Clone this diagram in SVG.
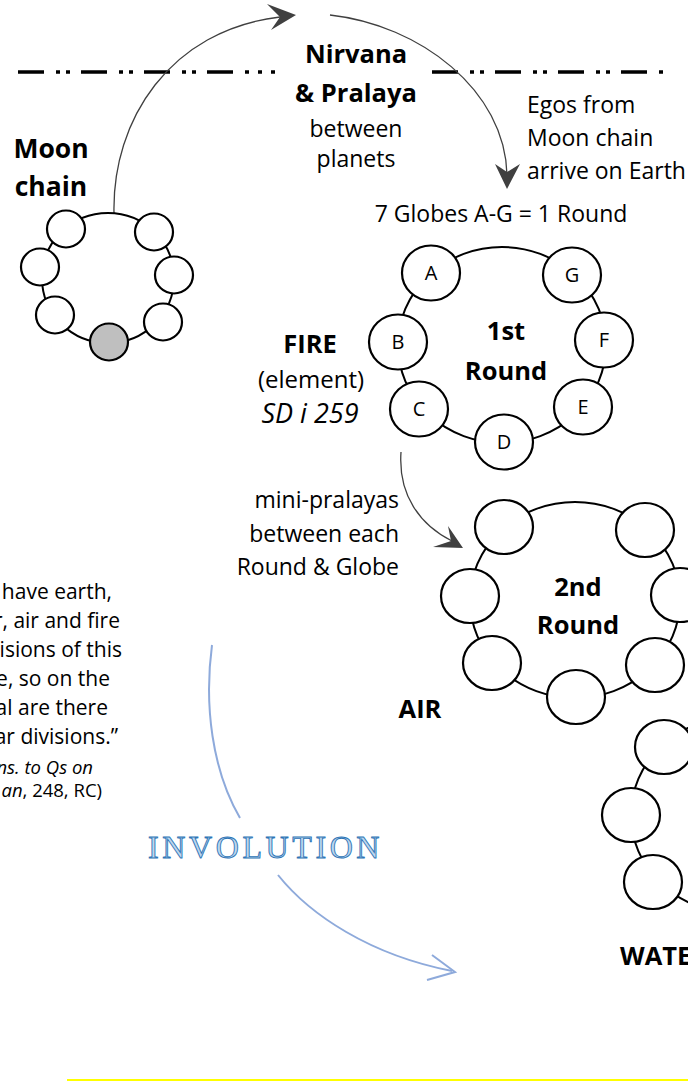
<svg xmlns="http://www.w3.org/2000/svg" width="688" height="1082" viewBox="0 0 688 1082">
<defs>
<style>
text{font-family:"Open Sans","Liberation Sans",sans-serif;fill:#000}
.b{font-weight:bold;font-size:25.5px;text-anchor:middle}
.r{font-size:23px}
.m{text-anchor:middle}
.g{font-size:20px;text-anchor:middle}
.q{font-size:21px;text-anchor:end}
.c{font-size:18.5px;text-anchor:end}
.ring{fill:none;stroke:#000;stroke-width:2}
.globe{fill:#fff;stroke:#000;stroke-width:2.2}
.arc{fill:none;stroke:#404040;stroke-width:1.3}
.head{fill:#404040}
.blue{fill:none;stroke:#8eaadb;stroke-width:2}
.dash{fill:none;stroke:#000;stroke-width:3.5}
</style>
</defs>
<rect width="688" height="1082" fill="#fff"/>

<g id="divider">
<path class="dash" d="M18,72h26M56,72h4M66,72h4M81,72h26M119,72h4M129,72h4M144,72h26M182,72h4M192,72h4M207,72h26M245,72h4M258,72h4M271,72h4"/>
<path class="dash" d="M432,72h26M470,72h4M480,72h4M495,72h26M533,72h4M543,72h4M558,72h26M596,72h4M606,72h4M621,72h26M659,72h4"/>
</g>

<g id="connectors">
<path class="arc" d="M114,213 C112,120 170,30 280,17"/>
<polygon class="head" points="296,15 267,4 280,17 271,30"/>
<path class="arc" d="M330,15 C420,25 505,90 507,175"/>
<polygon class="head" points="507,189 495,164 507,172 520,164"/>
<path class="arc" d="M401,452 C398,495 420,525 452,541"/>
<polygon class="head" points="463,548 448,526 451,541 433,547"/>
<path class="blue" d="M212,645 C204,705 212,770 240,818"/>
<path class="blue" d="M278,875 C310,915 370,955 452,971"/>
<path class="blue" d="M432,955 L455,972 L427,980"/>
</g>

<g id="moon-chain">
<ellipse class="ring" cx="108" cy="278" rx="66" ry="65"/>
<ellipse class="globe" cx="66" cy="229" rx="19" ry="18.5"/>
<ellipse class="globe" cx="154" cy="232" rx="19" ry="18.5"/>
<ellipse class="globe" cx="40" cy="267" rx="19" ry="18.5"/>
<ellipse class="globe" cx="174" cy="275" rx="19" ry="18.5"/>
<ellipse class="globe" cx="55" cy="315" rx="19" ry="18.5"/>
<ellipse class="globe" cx="163" cy="322" rx="19" ry="18.5"/>
<ellipse class="globe" cx="109" cy="342" rx="19" ry="18.5" style="fill:#bfbfbf"/>
<text class="b" x="51" y="158" style="font-size:26.5px">Moon</text>
<text class="b" x="51" y="196" style="font-size:26.5px">chain</text>
</g>

<g id="nirvana">
<text class="b" x="356" y="63">Nirvana</text>
<text class="b" x="356" y="102">&amp; Pralaya</text>
<text class="r m" x="356" y="137">between</text>
<text class="r m" x="356" y="167">planets</text>
</g>

<g id="egos">
<text class="r" x="527" y="113">Egos from</text>
<text class="r" x="527" y="146">Moon chain</text>
<text class="r" x="527" y="179">arrive on Earth</text>
</g>

<g id="round1">
<text class="r m" x="501" y="222">7 Globes A-G = 1 Round</text>
<ellipse class="ring" cx="502" cy="345" rx="104" ry="98"/>
<ellipse class="globe" cx="431" cy="273" rx="29" ry="27.5"/>
<ellipse class="globe" cx="572" cy="275" rx="29" ry="27.5"/>
<ellipse class="globe" cx="398" cy="342" rx="29" ry="27.5"/>
<ellipse class="globe" cx="604" cy="340" rx="29" ry="27.5"/>
<ellipse class="globe" cx="419" cy="409" rx="29" ry="27.5"/>
<ellipse class="globe" cx="583" cy="407" rx="29" ry="27.5"/>
<ellipse class="globe" cx="504" cy="442" rx="29" ry="27.5"/>
<text class="g" x="431" y="280">A</text>
<text class="g" x="572" y="282">G</text>
<text class="g" x="398" y="349">B</text>
<text class="g" x="604" y="347">F</text>
<text class="g" x="419" y="416">C</text>
<text class="g" x="583" y="414">E</text>
<text class="g" x="504" y="449">D</text>
<text class="b" x="506" y="340">1st</text>
<text class="b" x="506" y="380">Round</text>
</g>

<g id="fire">
<text class="b" x="310" y="353">FIRE</text>
<text class="r m" x="311" y="388" style="font-size:24px">(element)</text>
<text class="r m" x="310" y="423" style="font-style:italic;font-size:27px">SD i 259</text>
</g>

<g id="mini-pralayas">
<text class="r" x="399" y="508" text-anchor="end">mini-pralayas</text>
<text class="r" x="399" y="542" text-anchor="end">between each</text>
<text class="r" x="399" y="575" text-anchor="end">Round &amp; Globe</text>
</g>

<g id="round2">
<ellipse class="ring" cx="575" cy="600" rx="105" ry="98"/>
<ellipse class="globe" cx="504" cy="527" rx="29" ry="27"/>
<ellipse class="globe" cx="645" cy="530" rx="29" ry="27"/>
<ellipse class="globe" cx="470" cy="596" rx="29" ry="27"/>
<ellipse class="globe" cx="680" cy="595" rx="29" ry="27"/>
<ellipse class="globe" cx="492" cy="663" rx="29" ry="27"/>
<ellipse class="globe" cx="576" cy="697" rx="29" ry="27"/>
<ellipse class="globe" cx="655" cy="665" rx="29" ry="27"/>
<text class="b" x="578" y="596">2nd</text>
<text class="b" x="578" y="634">Round</text>
<text class="b" x="420" y="718">AIR</text>
</g>

<g id="round3">
<ellipse class="ring" cx="736" cy="815" rx="105" ry="98"/>
<ellipse class="globe" cx="664" cy="747" rx="29" ry="27"/>
<ellipse class="globe" cx="631" cy="815" rx="29" ry="27"/>
<ellipse class="globe" cx="653" cy="882" rx="29" ry="27"/>
<text class="b" x="620" y="965" style="text-anchor:start">WATER</text>
</g>

<g id="quote">
<text class="q" x="112" y="599">have earth,</text>
<text class="q" x="120" y="628">r, air and fire</text>
<text class="q" x="122" y="657">isions of this</text>
<text class="q" x="110" y="686">e, so on the</text>
<text class="q" x="108" y="715">al are there</text>
<text class="q" x="118" y="744">ar divisions.”</text>
<text class="c" x="93" y="774" style="font-style:italic">ns. to Qs on</text>
<text class="c" x="102" y="797"><tspan style="font-style:italic">an</tspan>, 248, RC)</text>
</g>

<g id="involution">
<text x="148" y="858" style="font-family:'Liberation Serif',serif;font-size:32px;letter-spacing:3.6px;fill:#bdd7ee;stroke:#2e75b6;stroke-width:0.9">INVOLUTION</text>
</g>

<line x1="67" y1="1080" x2="688" y2="1080" stroke="#ffff00" stroke-width="2"/>
</svg>
